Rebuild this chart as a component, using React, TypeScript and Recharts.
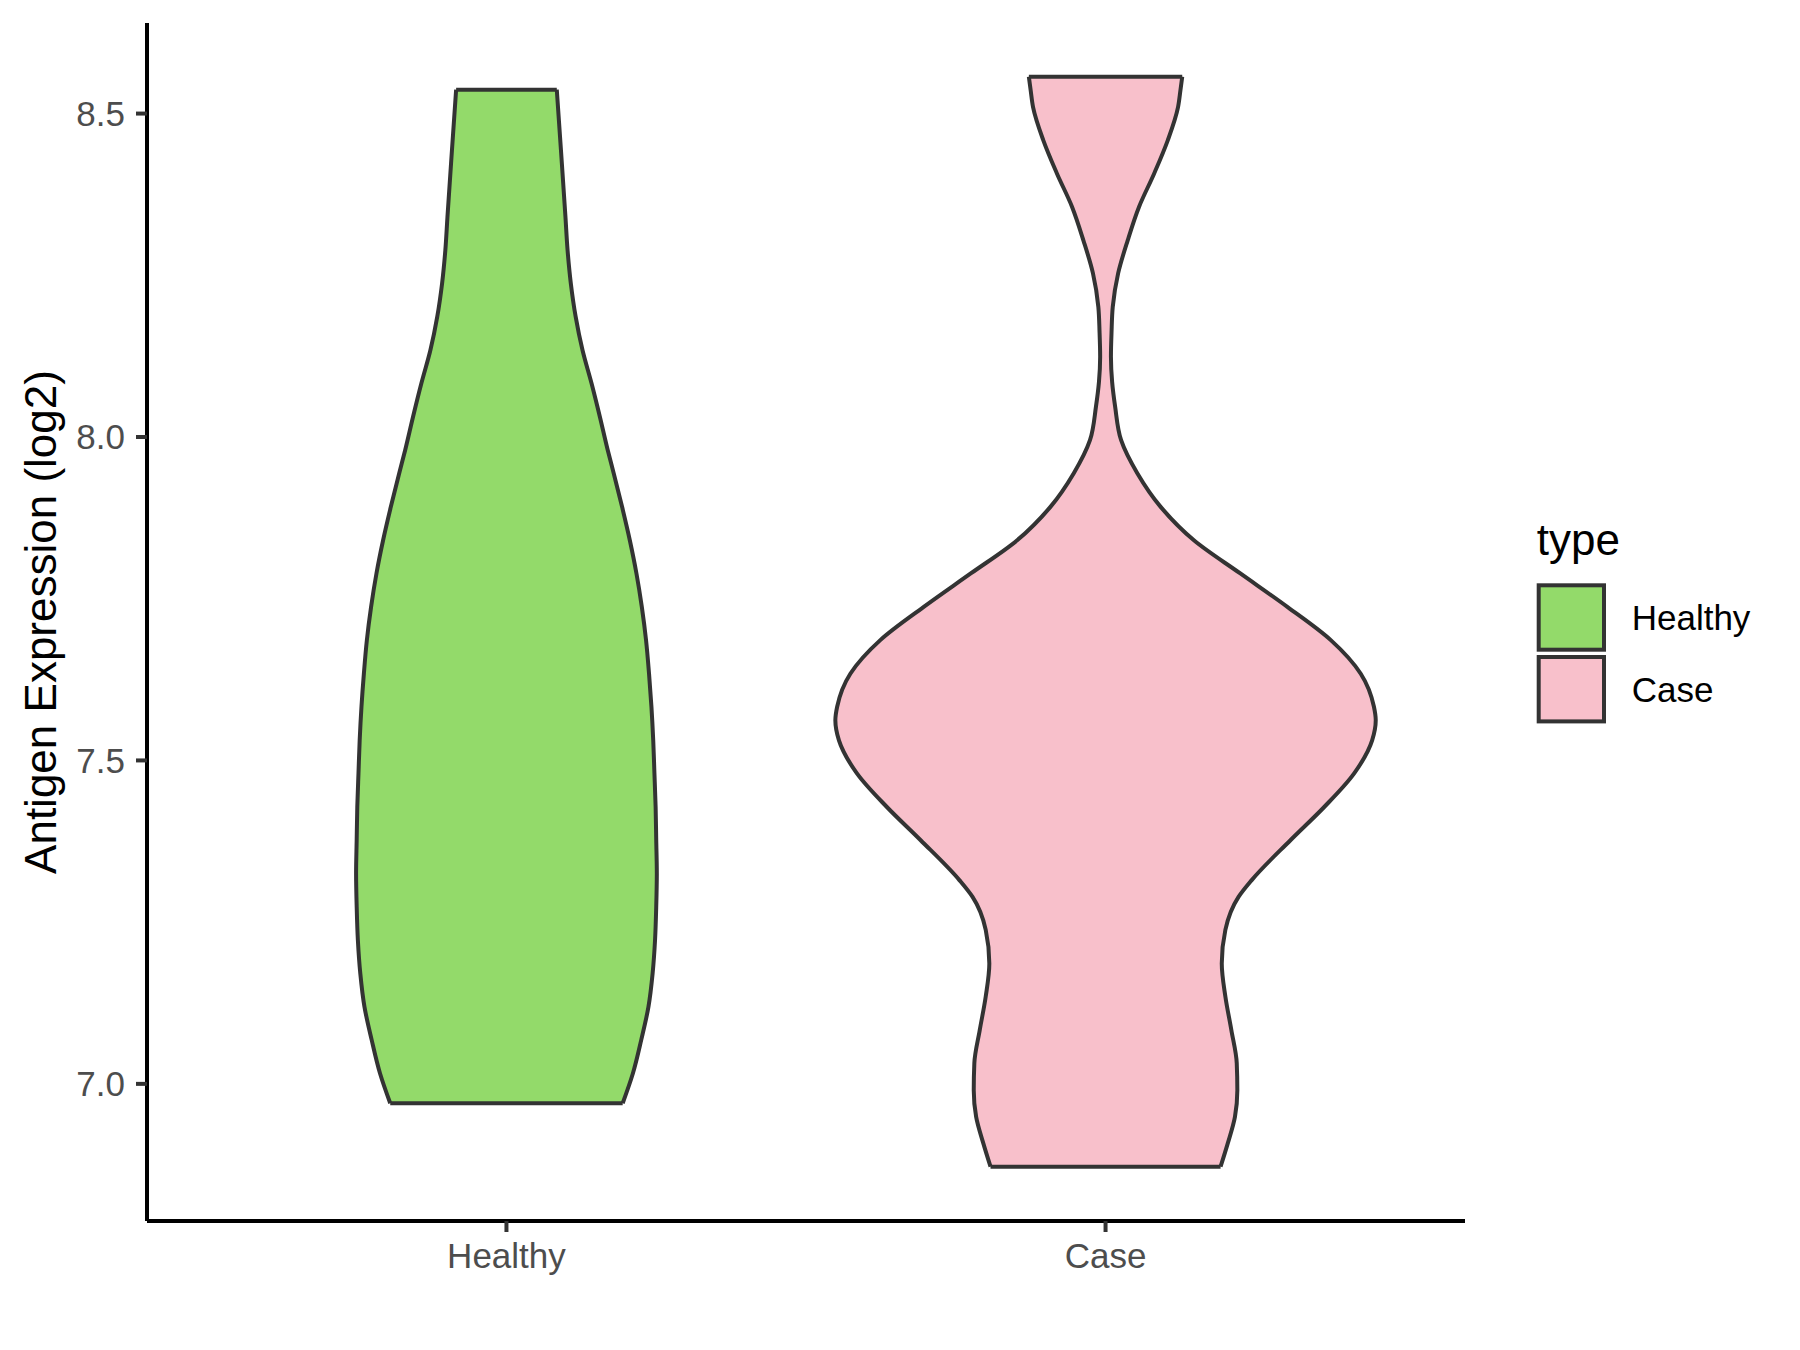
import {Area, ComposedChart, Label, Legend, Scatter, XAxis, YAxis} from "recharts";

const groups = ["Healthy", "Case"];
const groupColors = ["#93DA6A", "#F8C0CB"];
const yTicks = [7.0, 7.5, 8.0, 8.5];
const xTicks = [1, 2];

// expression values (log2) along each violin, top to bottom, with the half width at that value
const healthyValues = [8.537, 8.443, 8.340, 8.289, 8.237, 8.186, 8.134, 8.083, 8.031, 7.980, 7.944, 7.892, 7.840, 7.789, 7.737, 7.686, 7.634, 7.583, 7.531, 7.480, 7.428, 7.377, 7.325, 7.274, 7.222, 7.171, 7.119, 7.068, 7.016, 6.970];
const healthyHalfWidths = [0.084, 0.091, 0.0985, 0.102, 0.1075, 0.1155, 0.127, 0.142, 0.156, 0.169, 0.179, 0.193, 0.206, 0.217, 0.226, 0.233, 0.238, 0.242, 0.245, 0.247, 0.249, 0.250, 0.251, 0.250, 0.248, 0.244, 0.237, 0.225, 0.211, 0.194];

const caseValues = [8.557, 8.536, 8.510, 8.459, 8.407, 8.356, 8.304, 8.253, 8.201, 8.162, 8.124, 8.085, 8.047, 7.995, 7.944, 7.892, 7.840, 7.789, 7.737, 7.686, 7.634, 7.583, 7.562, 7.531, 7.480, 7.428, 7.377, 7.315, 7.289, 7.238, 7.186, 7.135, 7.083, 7.032, 6.990, 6.949, 6.908, 6.872];
const caseHalfWidths = [0.128, 0.125, 0.121, 0.104, 0.081, 0.056, 0.037, 0.021, 0.012, 0.010, 0.009, 0.011, 0.016, 0.026, 0.053, 0.092, 0.148, 0.225, 0.304, 0.376, 0.426, 0.448, 0.451, 0.445, 0.415, 0.365, 0.309, 0.244, 0.222, 0.200, 0.194, 0.200, 0.210, 0.219, 0.220, 0.216, 0.204, 0.192];

const FONT = "'Liberation Sans', Arial, Helvetica, sans-serif";
const OUTLINE = "#333333";

function violinRows(center: number, values: number[], halfWidths: number[]) {
    return values.map((v, i) => ({v, edge: [center - halfWidths[i], center + halfWidths[i]]}));
}

// flat cut-off line at the top or bottom of a violin
function endRows(rows: {v: number, edge: number[]}[], index: number) {
    const r = rows[index];
    return [{v: r.v, x: r.edge[0]}, {v: r.v, x: r.edge[1]}];
}

const violins = [
    violinRows(1, healthyValues, healthyHalfWidths),
    violinRows(2, caseValues, caseHalfWidths),
];

function TypeLegend() {
    return (
        <svg width={260} height={230} style={{display: "block", fontFamily: FONT}}>
            <text x={6.7} y={55} fontSize={44} fill="#000">type</text>
            {groups.map((g, i) => (
                <g key={g}>
                    <rect x={8.7} y={85.3 + i * 71.7} width={65.3} height={64.4}
                          fill={groupColors[i]} stroke={OUTLINE} strokeWidth={4}/>
                    <text x={101.7} y={130 + i * 71.7} fontSize={35} fill="#000">{g}</text>
                </g>
            ))}
        </svg>
    );
}

function YTitle(props: any) {
    const vb = props.viewBox;
    const cy = vb.y + vb.height / 2;
    return (
        <text x={56} y={cy} transform={`rotate(-90, 56, ${cy})`} textAnchor="middle"
              fontSize={44} fontFamily={FONT} fill="#000">
            Antigen Expression (log2)
        </text>
    );
}

export default function App() {
    return (
        <div style={{position: "absolute", left: 0, top: 0, background: "#fff"}}>
            <ComposedChart width={1800} height={1350} layout="vertical"
                           margin={{top: 23, right: 335, bottom: 69, left: 0}}>
                <XAxis type="number" dataKey="x" domain={[0.4, 2.6]} ticks={xTicks}
                       allowDataOverflow height={60}
                       tickFormatter={(t: number) => groups[t - 1]}
                       axisLine={{stroke: "#000", strokeWidth: 4}}
                       tickLine={{stroke: OUTLINE, strokeWidth: 4}}
                       tickSize={11} tickMargin={11}
                       tick={{fill: "#4D4D4D", fontSize: 35, fontFamily: FONT}}/>
                <YAxis type="number" dataKey="v" domain={[6.788, 8.64]} ticks={yTicks}
                       allowDataOverflow reversed width={147}
                       tickFormatter={(t: number) => t.toFixed(1)}
                       axisLine={{stroke: "#000", strokeWidth: 4}}
                       tickLine={{stroke: OUTLINE, strokeWidth: 4}}
                       tickSize={11} tickMargin={11}
                       tick={{fill: "#4D4D4D", fontSize: 35, fontFamily: FONT}}>
                    <Label content={YTitle}/>
                </YAxis>
                {violins.map((rows, i) => (
                    <Area key={groups[i]} data={rows} dataKey="edge" type="monotone"
                          fill={groupColors[i]} fillOpacity={1}
                          stroke={OUTLINE} strokeWidth={4}
                          isAnimationActive={false}/>
                ))}
                {violins.flatMap((rows, i) => [0, rows.length - 1].map(idx => (
                    <Scatter key={`${groups[i]}-${idx}`} data={endRows(rows, idx)}
                             line={{stroke: OUTLINE, strokeWidth: 4}} lineType="joint"
                             shape={() => <g/>} isAnimationActive={false}/>
                )))}
                <Legend layout="horizontal" verticalAlign="middle" align="center"
                        wrapperStyle={{left: 1530, top: 500, width: 260, height: 230}}
                        content={() => <TypeLegend/>}/>
            </ComposedChart>
        </div>
    );
}
